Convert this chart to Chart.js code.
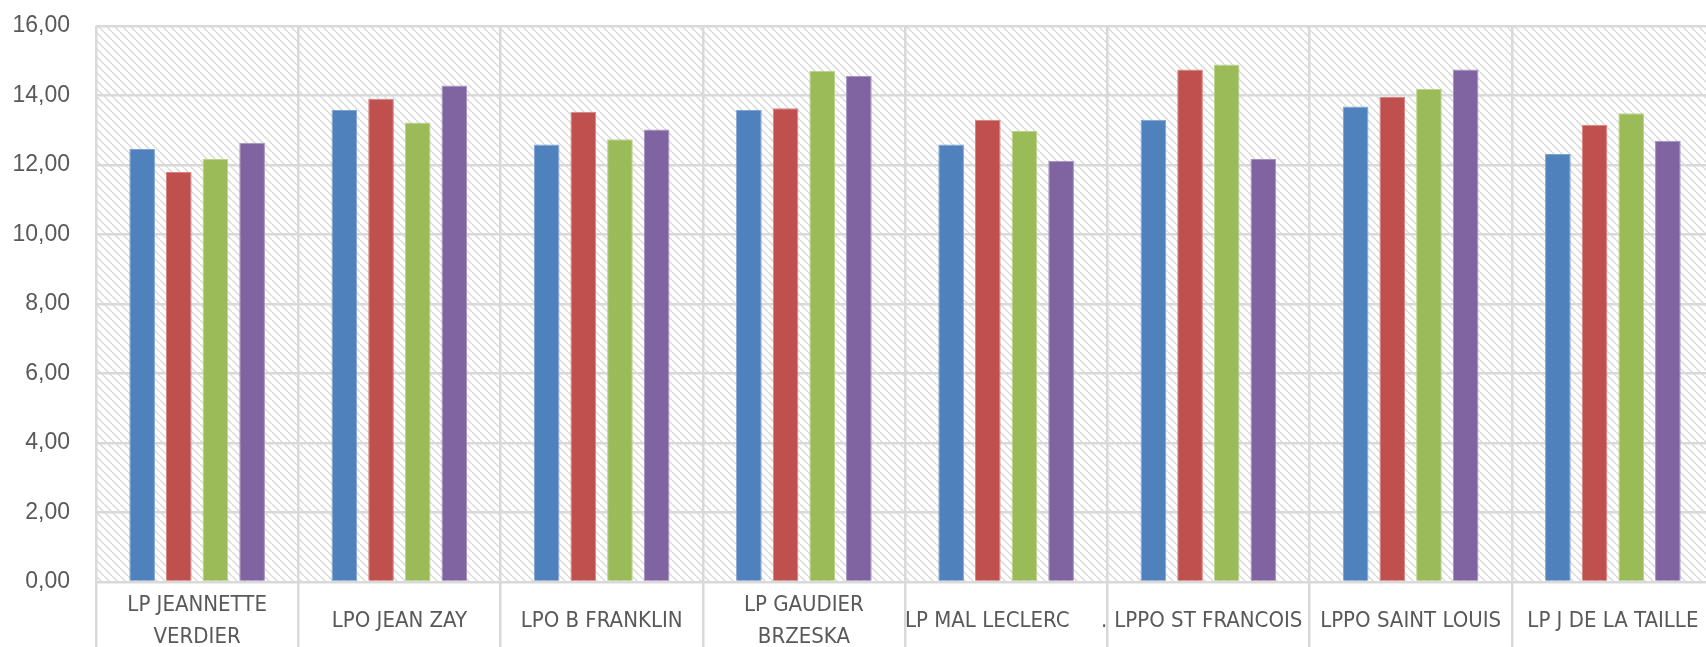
<!DOCTYPE html>
<html>
<head>
<meta charset="utf-8">
<script src="https://cdn.jsdelivr.net/npm/chart.js@4"></script>
<style>
  html, body { margin: 0; padding: 0; background: #fff; overflow: hidden; }
  #wrap { width: 1722px; height: 662px; position: relative; }
</style>
</head>
<body>
<div id="wrap"><canvas id="myChart"></canvas></div>
<script>
// categories (établissements)
const categories = [
  ["LP JEANNETTE", "VERDIER"],
  "LPO JEAN ZAY",
  "LPO B FRANKLIN",
  ["LP GAUDIER", "BRZESKA"],
  "LP MAL LECLERC     .",
  "LPPO ST FRANCOIS",
  "LPPO SAINT LOUIS",
  "LP J DE LA TAILLE"
];

// four series
const serie1 = [12.46, 13.58, 12.59, 13.58, 12.59, 13.30, 13.68, 12.32];
const serie2 = [11.80, 13.91, 13.53, 13.63, 13.30, 14.75, 13.96, 13.16];
const serie3 = [12.17, 13.22, 12.74, 14.71, 12.98, 14.89, 14.19, 13.49];
const serie4 = [12.64, 14.29, 13.02, 14.57, 12.12, 12.17, 14.75, 12.70];

const yMin = 0, yMax = 16, yStep = 2;

// hatched background of the plot area
function makeHatch() {
  const s = 8;
  const c = document.createElement("canvas");
  c.width = s; c.height = s;
  const g = c.getContext("2d");
  g.fillStyle = "#ffffff";
  g.fillRect(0, 0, s, s);
  g.strokeStyle = "#dadada";
  g.lineWidth = 1.5;
  g.beginPath();
  for (const k of [-s, 0, s]) {
    g.moveTo(k, 0);
    g.lineTo(k + s, s);
  }
  g.stroke();
  return c;
}

const hatchBg = {
  id: "hatchBg",
  beforeDraw(chart) {
    const { ctx, chartArea } = chart;
    ctx.save();
    ctx.fillStyle = ctx.createPattern(makeHatch(), "repeat");
    ctx.fillRect(chartArea.left, chartArea.top,
      chartArea.right - chartArea.left, chartArea.bottom - chartArea.top);
    ctx.restore();
  }
};

const gridColor = "#d9d9d9";
const textColor = "#595959";

function bar(label, data, color, border) {
  return {
    label: label,
    data: data,
    backgroundColor: color,
    borderColor: border,
    borderWidth: 1,
    categoryPercentage: 0.725,
    barPercentage: 0.7
  };
}

const ctx = document.getElementById("myChart");

new Chart(ctx, {
  type: "bar",
  data: {
    labels: categories,
    datasets: [
      bar("Série 1", serie1, "#4f81bd", "#7ea3d1"),
      bar("Série 2", serie2, "#c0504d", "#d88380"),
      bar("Série 3", serie3, "#9bbb59", "#bad48a"),
      bar("Série 4", serie4, "#8064a2", "#a590bf")
    ]
  },
  options: {
    responsive: true,
    maintainAspectRatio: false,
    animation: false,
    layout: {
      padding: { top: 26, right: 8, left: 0, bottom: 0 }
    },
    plugins: {
      legend: { display: false },
      tooltip: { enabled: false }
    },
    scales: {
      x: {
        offset: true,
        grid: {
          offset: true,
          color: gridColor,
          lineWidth: 2.5,
          drawTicks: true,
          tickLength: 70,
          tickColor: gridColor,
          tickWidth: 2.5
        },
        border: { display: false },
        ticks: {
          padding: -47,
          color: textColor,
          maxRotation: 0,
          autoSkip: false,
          crossAlign: "center",
          font: { family: "'Liberation Sans Narrow', 'DejaVu Sans Condensed', sans-serif", size: 22, lineHeight: 1.4545 }
        },
        afterFit(scale) { scale.height = 80; }
      },
      y: {
        min: yMin,
        max: yMax,
        grid: {
          color: gridColor,
          lineWidth: 2.5,
          drawTicks: true,
          tickLength: 26,
          tickColor: "rgba(0,0,0,0)"
        },
        border: { display: false },
        ticks: {
          stepSize: yStep,
          padding: 0,
          color: textColor,
          font: { family: "'Liberation Sans', sans-serif", size: 23 },
          callback: (v) => v.toFixed(2).replace(".", ",")
        },
        afterFit(scale) { scale.width = 96; }
      }
    }
  },
  plugins: [hatchBg]
});
</script>
</body>
</html>
